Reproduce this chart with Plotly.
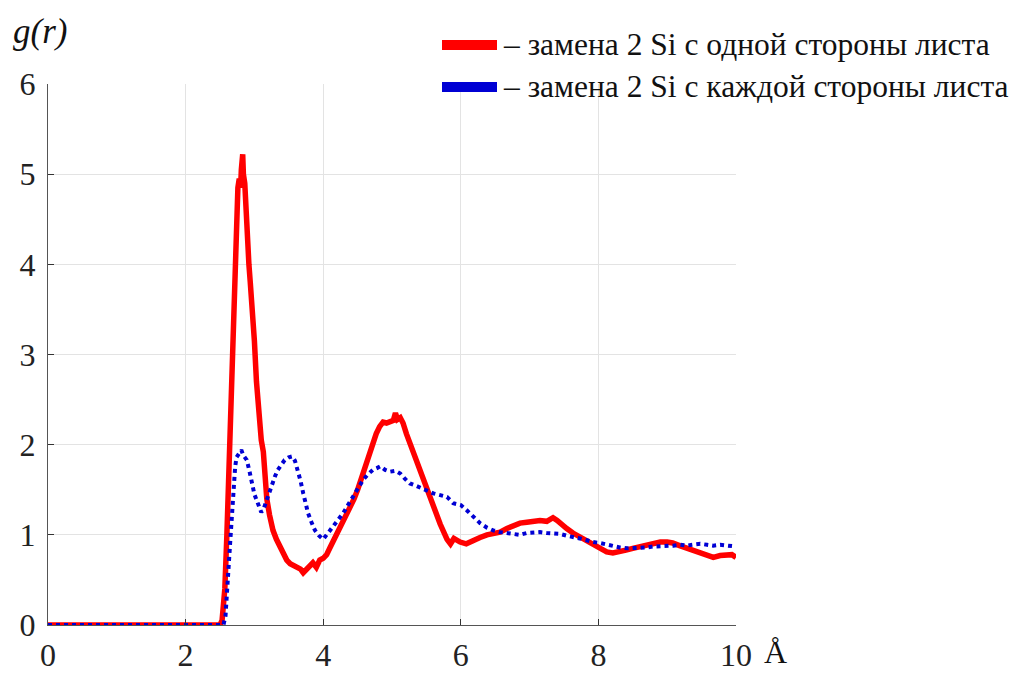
import plotly.graph_objects as go

# --- data ---
r_red = [0, 2.5, 2.53, 2.57, 2.6, 2.63, 2.67, 2.7, 2.72, 2.74, 2.76, 2.78, 2.8, 2.81, 2.83, 2.84,
         2.86, 2.88, 2.9, 2.92, 2.94, 2.96, 2.98, 3.0, 3.03, 3.05, 3.08, 3.1, 3.13, 3.16, 3.18,
         3.22, 3.27, 3.32, 3.37, 3.42, 3.47, 3.52, 3.57, 3.62, 3.67, 3.71, 3.76, 3.8, 3.85, 3.9,
         3.95, 4.0, 4.05, 4.1, 4.14, 4.19, 4.24, 4.3, 4.35, 4.39, 4.45, 4.5, 4.53, 4.58, 4.63,
         4.68, 4.72, 4.77, 4.82, 4.87, 4.92, 4.97, 5.02, 5.05, 5.08, 5.12, 5.16, 5.21, 5.26,
         5.33, 5.41, 5.5, 5.6, 5.7, 5.8, 5.85, 5.9, 5.99, 6.08, 6.18, 6.28, 6.38, 6.47, 6.57,
         6.67, 6.76, 6.86, 6.96, 7.05, 7.15, 7.25, 7.34, 7.4, 7.45, 7.54, 7.63, 7.73, 7.83,
         7.92, 8.02, 8.12, 8.21, 8.31, 8.4, 8.5, 8.6, 8.7, 8.8, 8.9, 9.0, 9.08, 9.18, 9.29,
         9.38, 9.48, 9.58, 9.67, 9.77, 9.87, 9.94, 10.0]
g_red = [0, 0, 0.05, 0.4, 1.0, 1.8, 2.6, 3.3, 4.0, 4.7, 4.85, 4.95, 4.85, 5.05, 5.22, 5.0,
         4.9, 4.6, 4.4, 4.0, 3.8, 3.6, 3.4, 3.15, 2.7, 2.45, 2.15, 2.05, 1.92, 1.6, 1.4,
         1.22, 1.05, 0.95, 0.87, 0.8, 0.72, 0.68, 0.66, 0.63, 0.62, 0.58, 0.62, 0.65, 0.69, 0.64,
         0.72, 0.74, 0.78, 0.86, 0.92, 1.0, 1.08, 1.18, 1.26, 1.32, 1.4, 1.5, 1.57, 1.68, 1.82,
         1.95, 2.05, 2.12, 2.2, 2.25, 2.24, 2.26, 2.27, 2.35, 2.28, 2.3, 2.24, 2.12, 2.02,
         1.85, 1.69, 1.5, 1.3, 1.12, 0.95, 0.9, 0.96, 0.92, 0.9, 0.94, 0.97, 1.0, 1.01, 1.03,
         1.07, 1.1, 1.13, 1.14, 1.15, 1.16, 1.15, 1.19, 1.16, 1.12, 1.07, 1.02, 0.98, 0.93,
         0.89, 0.85, 0.81, 0.8, 0.81, 0.83, 0.85, 0.87, 0.89, 0.9, 0.92, 0.92, 0.91, 0.88, 0.85,
         0.82, 0.8, 0.78, 0.75, 0.77, 0.77, 0.78, 0.75]

r_blue = [0, 2.55, 2.58, 2.6, 2.63, 2.65, 2.69, 2.72, 2.74, 2.78, 2.81, 2.84, 2.87, 2.89, 2.93,
          2.96, 3.0, 3.03, 3.07, 3.1, 3.14, 3.18, 3.22, 3.25, 3.3, 3.34, 3.39, 3.44, 3.5, 3.55,
          3.59, 3.63, 3.67, 3.71, 3.75, 3.78, 3.83, 3.88, 3.94, 4.0, 4.07, 4.14, 4.21, 4.29,
          4.36, 4.43, 4.5, 4.58, 4.65, 4.72, 4.78, 4.83, 4.9, 4.97, 5.05, 5.12, 5.19, 5.26,
          5.33, 5.41, 5.5, 5.6, 5.7, 5.8, 5.89, 6.0, 6.09, 6.18, 6.28, 6.38, 6.47, 6.57, 6.67,
          6.76, 6.86, 6.96, 7.05, 7.15, 7.25, 7.34, 7.44, 7.54, 7.63, 7.73, 7.83, 7.92, 8.02,
          8.12, 8.21, 8.31, 8.42, 8.5, 8.6, 8.7, 8.79, 8.89, 8.99, 9.09, 9.19, 9.28, 9.37,
          9.48, 9.58, 9.67, 9.77, 9.87, 10.0]
g_blue = [0, 0, 0.1, 0.42, 0.7, 0.94, 1.5, 1.75, 1.86, 1.9, 1.94, 1.88, 1.85, 1.83, 1.7,
          1.57, 1.45, 1.39, 1.3, 1.25, 1.3, 1.39, 1.5, 1.57, 1.65, 1.72, 1.78, 1.83, 1.86, 1.87,
          1.82, 1.72, 1.6, 1.46, 1.33, 1.24, 1.14, 1.05, 0.99, 0.95, 1.02, 1.09, 1.17, 1.24,
          1.33, 1.42, 1.52, 1.61, 1.67, 1.72, 1.74, 1.76, 1.72, 1.7, 1.71, 1.68, 1.62, 1.57,
          1.55, 1.52, 1.49, 1.46, 1.44, 1.42, 1.35, 1.33, 1.27, 1.2, 1.13, 1.08, 1.05, 1.03, 1.02,
          1.01, 1.0, 1.02, 1.03, 1.03, 1.02, 1.02, 1.01, 0.99, 0.98, 0.96, 0.94, 0.92, 0.91,
          0.89, 0.87, 0.86, 0.85, 0.85, 0.85, 0.86, 0.87, 0.87, 0.87, 0.88, 0.89, 0.88, 0.89,
          0.9, 0.89, 0.88, 0.89, 0.88, 0.87]

x_ticks = [0, 2, 4, 6, 8, 10]
y_ticks = [0, 1, 2, 3, 4, 5, 6]
legend_labels = ["– замена 2 Si с одной стороны листа", "– замена 2 Si с каждой стороны листа"]
colors = ["#ff0000", "#0000d4"]

FONT = "Liberation Serif"

fig = go.Figure()
fig.add_trace(go.Scatter(x=r_red, y=g_red, mode="lines",
                         line=dict(color=colors[0], width=5.5), showlegend=False))
fig.add_trace(go.Scatter(x=r_blue, y=g_blue, mode="lines",
                         line=dict(color=colors[1], width=4, dash="4px,4px"), showlegend=False))

fig.update_layout(
    width=1022, height=673,
    margin=dict(l=48, r=286, t=84, b=48),
    paper_bgcolor="white", plot_bgcolor="white",
    font=dict(family=FONT, size=32, color="#222"),
    xaxis=dict(range=[0, 10], tickvals=x_ticks, ticktext=[str(v) for v in x_ticks],
               showgrid=True, gridcolor="#e3e3e3", gridwidth=1,
               showline=True, linecolor="#555", linewidth=1.2,
               ticks="inside", ticklen=6, tickcolor="#333", zeroline=False,
               ticklabelstandoff=1, automargin=False),
    yaxis=dict(range=[0, 6], tickvals=y_ticks, ticktext=[str(v) for v in y_ticks],
               showgrid=True, gridcolor="#e3e3e3", gridwidth=1,
               showline=True, linecolor="#555", linewidth=1.2,
               ticks="inside", ticklen=6, tickcolor="#333", zeroline=False,
               ticklabelstandoff=5, automargin=False),
)

PW, PH = 688, 541
# axis labels
fig.add_annotation(xref="paper", yref="paper", x=(11-48)/PW, y=1 + (84-31)/PH,
                   text="<i>g(r)</i>", showarrow=False, xanchor="left", yanchor="middle",
                   font=dict(family=FONT, size=35, color="#111"))
fig.add_annotation(xref="paper", yref="paper", x=(762-48)/PW, y=-(652-625)/PH,
                   text="Å", showarrow=False, xanchor="left", yanchor="middle",
                   font=dict(family=FONT, size=32, color="#111"))

# manual legend (solid samples, like the reference)
leg_y = [45, 87]
for i in range(2):
    yp = 1 + (84 - leg_y[i]) / PH
    fig.add_shape(type="line", xref="paper", yref="paper",
                  x0=(442-48)/PW, x1=(497-48)/PW, y0=yp, y1=yp,
                  line=dict(color=colors[i], width=10))
    fig.add_annotation(xref="paper", yref="paper", x=(501-48)/PW, y=yp,
                       text=legend_labels[i], showarrow=False, xanchor="left", yanchor="middle",
                       font=dict(family=FONT, size=31.5, color="#111"))

fig.write_html("out.html")
